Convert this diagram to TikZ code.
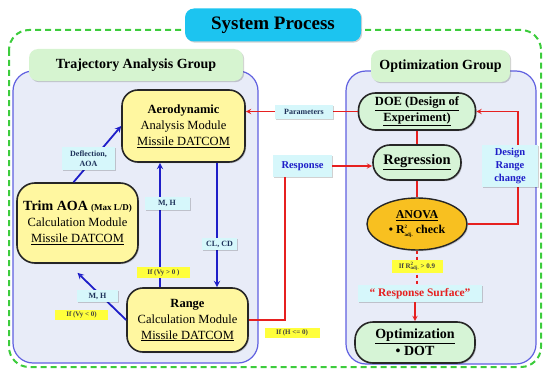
\documentclass[tikz,border=0pt]{standalone}
\usepackage{fontspec}
\setmainfont{Liberation Serif}
\usetikzlibrary{arrows, positioning, shapes.geometric, shadows}

\definecolor{titlecyan}{RGB}{28,196,240}
\definecolor{groupgreen}{RGB}{214,244,208}
\definecolor{panelfill}{RGB}{232,236,248}
\definecolor{panelline}{RGB}{96,96,224}
\definecolor{modyellow}{RGB}{255,247,160}
\definecolor{optgreen}{RGB}{214,244,214}
\definecolor{anovaorange}{RGB}{248,192,32}
\definecolor{labelcyan}{RGB}{214,247,251}
\definecolor{tagtext}{RGB}{30,50,90}
\definecolor{condyellow}{RGB}{255,255,60}
\definecolor{linkblue}{RGB}{30,30,200}
\definecolor{linkred}{RGB}{230,32,32}
\definecolor{dashgreen}{RGB}{60,204,60}

\newcommand{\radj}{R\rlap{\raisebox{0.85ex}{\tiny 2}}\raisebox{-0.55ex}{\tiny adj.}}

\begin{document}
\begin{tikzpicture}[x=1pt, y=-1pt,
	softshadow/.style={drop shadow={shadow xshift=1.2pt, shadow yshift=-1.2pt, fill=black, opacity=0.18}},
	panel/.style={draw=panelline, fill=panelfill, line width=1.2pt, rounded corners=20pt},
	group/.style={fill=groupgreen, rounded corners=9pt, inner sep=0pt, minimum height=32pt,
		font=\bfseries\fontsize{14}{16}\selectfont, softshadow},
	module/.style={draw=black!85, fill=modyellow, line width=1.6pt, rounded corners=16pt,
		align=center, inner sep=0pt, font=\fontsize{12.5}{16}\selectfont, softshadow},
	pill/.style={draw=black!85, fill=optgreen, line width=1.6pt, rounded corners=17pt,
		align=center, inner sep=0pt, softshadow},
	tag/.style={fill=labelcyan, align=center, inner sep=1pt, text=tagtext,
		font=\bfseries\fontsize{8}{10}\selectfont, softshadow},
	cond/.style={fill=condyellow, inner sep=1pt, text=black!75,
		font=\bfseries\fontsize{7}{8}\selectfont},
	blink/.style={draw=linkblue, line width=1.8pt, -stealth},
	rlink/.style={draw=linkred, line width=1.4pt}
	]
\useasboundingbox (0,0) rectangle (546,369);

% frame and title
\draw[dashgreen, line width=2pt, dash pattern=on 6pt off 4pt, rounded corners=20pt] (9,30) rectangle (541,367);
\node[fill=titlecyan, rounded corners=9pt, minimum width=176pt, minimum height=33pt,
	font=\bfseries\fontsize{19}{22}\selectfont, softshadow] (title) at (273,25) {System Process};

% groups
\draw[panel] (13,71) rectangle (258,363);
\draw[panel] (346,71) rectangle (536,364);
\node[group, minimum width=214pt] (trajgroup) at (136,65) {Trajectory Analysis Group};
\node[group, minimum width=139pt] (optgroup) at (440.5,66) {Optimization Group};

% trajectory analysis modules
\node[module, minimum width=123pt, minimum height=72pt] (aero) at (183.5,126)
	{\textbf{Aerodynamic}\\Analysis Module\\\underline{Missile DATCOM}};
\node[module, minimum width=121pt, minimum height=80pt, rounded corners=18pt] (trim) at (77.5,223)
	{{\fontsize{14}{16}\selectfont\textbf{Trim AOA}} {\fontsize{9}{10}\selectfont\textbf{(Max L/D)}}\\Calculation Module\\\underline{Missile DATCOM}};
\node[module, minimum width=121pt, minimum height=64pt] (range) at (187.5,320)
	{\textbf{Range}\\Calculation Module\\\underline{Missile DATCOM}};

% optimization modules
\node[pill, minimum width=117pt, minimum height=37pt, font=\bfseries\fontsize{12.5}{15.5}\selectfont] (doe) at (417,111.5)
	{\underline{DOE (Design of}\\\underline{Experiment)}};
\node[pill, minimum width=88pt, minimum height=35pt, font=\bfseries\fontsize{14.5}{16}\selectfont] (regr) at (417,162.5)
	{\underline{Regression}};
\node[ellipse, draw=black!85, fill=anovaorange, line width=1.4pt, minimum width=100pt, minimum height=52pt,
	inner sep=0pt, align=center, font=\bfseries\fontsize{12}{15}\selectfont, softshadow] (anova) at (417,224)
	{\underline{ANOVA}\\\textbullet\ \radj\ check};
\node[pill, minimum width=120pt, minimum height=41pt, rounded corners=18pt, font=\bfseries\fontsize{14}{17}\selectfont] (optim) at (415,342.5)
	{\underline{Optimization}\\\textbullet\ DOT};

\node[tag, text=linkblue, font=\bfseries\fontsize{10.5}{12}\selectfont, minimum width=59pt, minimum height=22pt] (response) at (302.5,166) {Response};
\node[tag, text=linkred, font=\bfseries\fontsize{11.5}{13}\selectfont, minimum width=124pt, minimum height=17pt] (rsurf) at (420,293.5)
	{\textquotedblleft\ Response Surface\textquotedblright};

\coordinate (up) at (160,0);
\coordinate (dn) at (217,0);
\coordinate (rl) at (285,0);
\coordinate (loop) at (518,0);

% connectors
\draw[blink] ([xshift=-4pt]trim.north) -- (aero.west);
\draw[blink] (range.north -| up) -- (aero.south -| up);
\draw[blink] (aero.south -| dn) -- (range.north -| dn);
\draw[blink] (range.west) -- ([yshift=-9pt]trim.south);

\draw[rlink, -stealth] (doe.west) -- (doe.west -| aero.east);
\draw[rlink] (range.east) -| (response.south -| rl);
\draw[rlink, -stealth] (response.east) -- (response.east -| regr.west);
\draw[rlink] (doe.south) -- (regr.north);
\draw[rlink] (regr.south) -- (anova.north);
\draw[rlink, -stealth] (anova.east) -- (anova.east -| loop) -- (doe.east -| loop) -- (doe.east);
\draw[rlink, dashed] (anova.south) -- (anova.south |- rsurf.north);
\draw[rlink, -stealth] (rsurf.south -| optim.north) -- (optim.north);

% labels on the connectors
\node[tag, minimum width=58pt, minimum height=14pt] (params) at (304,112) {Parameters};
\node[tag, minimum width=53pt, minimum height=23pt] (defl) at (88.5,158.5) {Deflection,\\AOA};
\node[tag, minimum width=45pt, minimum height=13pt] (mhup) at (167,203.5) {M, H};
\node[tag, minimum width=41pt, minimum height=12pt] (mhdown) at (97.5,296) {M, H};
\node[tag, minimum width=35pt, minimum height=12pt] (clcd) at (219.5,244) {CL, CD};
\node[tag, text=linkblue, font=\bfseries\fontsize{10.5}{13}\selectfont, minimum width=56pt, minimum height=42pt] (drc) at (510,166)
	{Design\\Range\\change};
\node[cond, minimum width=53pt, minimum height=11pt] (vypos) at (163.5,272.5) {If (Vy > 0 )};
\node[cond, minimum width=53pt, minimum height=10pt] (vyneg) at (81.5,315) {If (Vy < 0)};
\node[cond, minimum width=55pt, minimum height=10pt] (hneg) at (292,333) {If (H <= 0)};
\node[cond, minimum width=51pt, minimum height=13pt] (rsq) at (417,266.5) {If \radj\ > 0.9};
\end{tikzpicture}
\end{document}
